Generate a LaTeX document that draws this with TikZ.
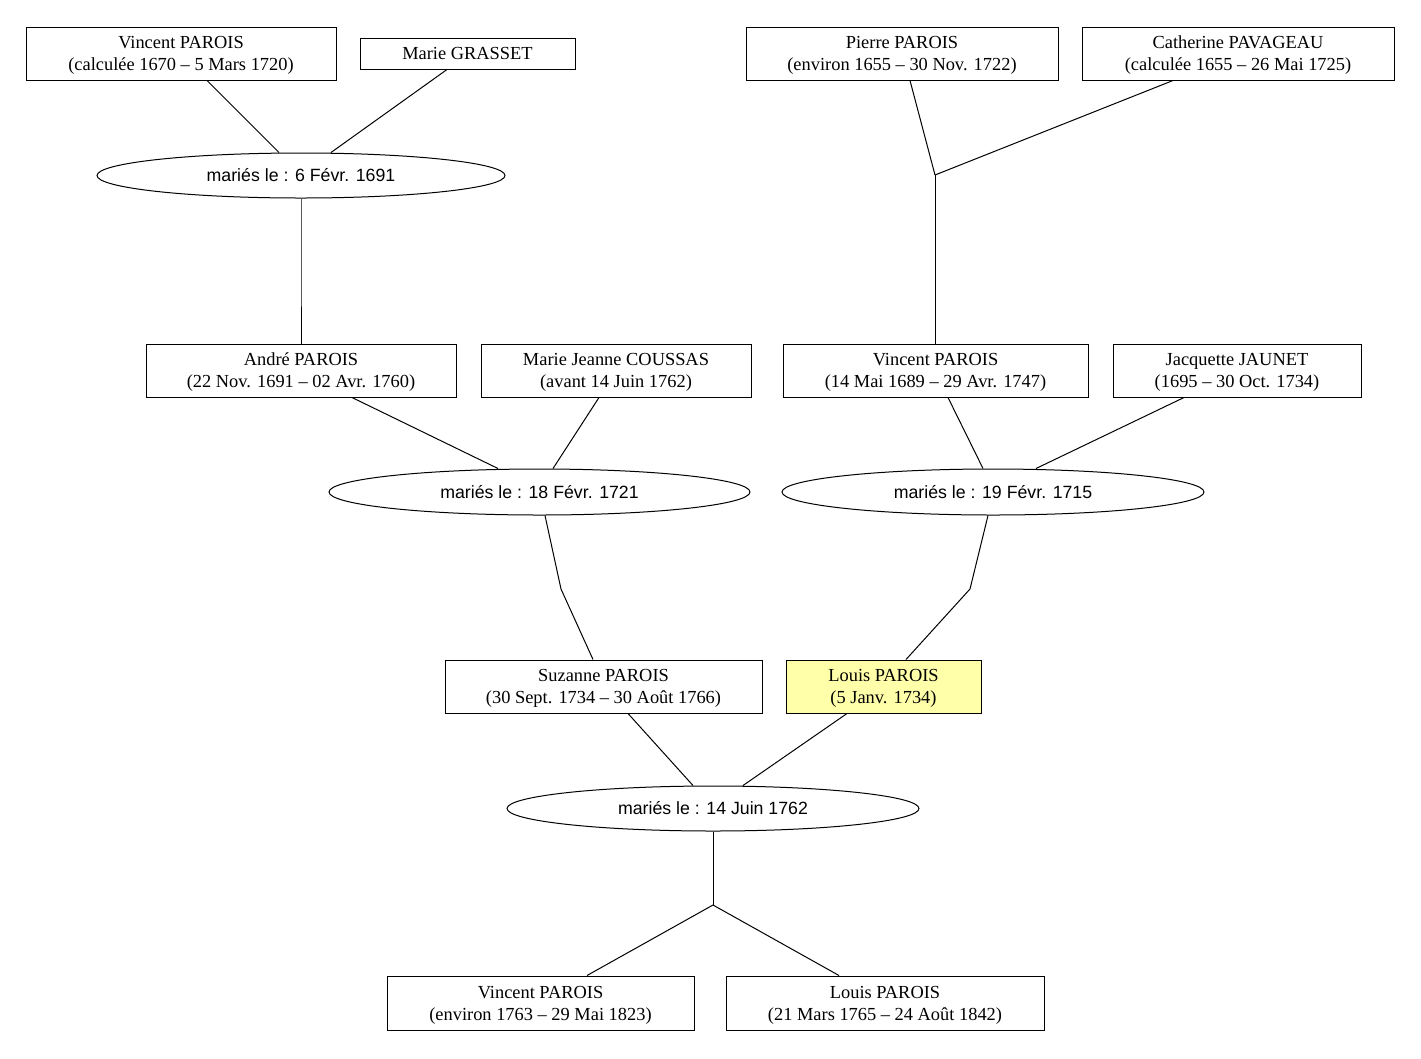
\documentclass[tikz,border=0pt]{standalone}
\usepackage{fontspec}
\setmainfont{Liberation Serif}
\newfontfamily\ellfont{Liberation Sans}
\usetikzlibrary{shapes.geometric}
\newdimen\px \px=0.75pt
\definecolor{hl}{RGB}{255,255,170}
\begin{document}
\begin{tikzpicture}[x=0.75pt,y=-0.75pt,
 person/.style={draw, rectangle, line width=0.75pt, inner sep=0pt, align=center,
   font=\fontsize{13.8}{16.5}\selectfont, minimum height=53\px, text depth=-3.5pt},
 wed/.style={draw, ellipse, line width=0.75pt, inner sep=0pt,
   font=\ellfont\fontsize{13.3}{16}\selectfont, minimum height=45\px},
 link/.style={line width=0.75pt, line join=round}]
\useasboundingbox (0,0) rectangle (1421,1058);
% generation 1
\node[person, minimum width=310\px] (vp1) at (181,53.5) {Vincent PAROIS\\(calculée 1670 – 5 Mars 1720)};
\node[person, minimum width=215\px, minimum height=31\px] (mg) at (467.5,53.5) {Marie GRASSET};
\node[person, minimum width=312\px] (pp) at (902,53.5) {Pierre PAROIS\\(environ 1655 – 30 Nov. 1722)};
\node[person, minimum width=312\px] (cp) at (1238,53.5) {Catherine PAVAGEAU\\(calculée 1655 – 26 Mai 1725)};
\node[wed, minimum width=408\px] (e1) at (301,175.5) {mariés le : 6 Févr. 1691};
\coordinate (j1) at (935,175);
\coordinate (m1) at (301,270);
\coordinate (m2) at (935,270);
% generation 2
\node[person, minimum width=310\px] (ap) at (301,370.5) {André PAROIS\\(22 Nov. 1691 – 02 Avr. 1760)};
\node[person, minimum width=270\px] (mjc) at (616,370.5) {Marie Jeanne COUSSAS\\(avant 14 Juin 1762)};
\node[person, minimum width=305\px] (vp2) at (935.5,370.5) {Vincent PAROIS\\(14 Mai 1689 – 29 Avr. 1747)};
\node[person, minimum width=248\px] (jj) at (1237,370.5) {Jacquette JAUNET\\(1695 – 30 Oct. 1734)};
\node[wed, minimum width=421\px, minimum height=46\px] (e2) at (539.5,492) {mariés le : 18 Févr. 1721};
\node[wed, minimum width=422\px, minimum height=46\px] (e3) at (993,492) {mariés le : 19 Févr. 1715};
\coordinate (m3) at (561,589);
\coordinate (m4) at (970,589);
% generation 3
\node[person, minimum width=317\px] (sp) at (603.5,686.5) {Suzanne PAROIS\\(30 Sept. 1734 – 30 Août 1766)};
\node[person, minimum width=195\px, fill=hl] (lp) at (883.5,686.5) {Louis PAROIS\\(5 Janv. 1734)};
\node[wed, minimum width=412\px] (e4) at (713,808.5) {mariés le : 14 Juin 1762};
\coordinate (j2) at (713,905);
% generation 4
\node[person, minimum width=307\px, minimum height=54\px] (vp3) at (540.5,1003) {Vincent PAROIS\\(environ 1763 – 29 Mai 1823)};
\node[person, minimum width=318\px, minimum height=54\px] (lp2) at (885,1003) {Louis PAROIS\\(21 Mars 1765 – 24 Août 1842)};
% links
\draw[link] ([xshift=26\px]vp1.south) -- ([xshift=-22\px]e1.north);
\draw[link] ([xshift=-20.5\px]mg.south) -- ([xshift=30\px]e1.north);
\draw[link] (e1.south) -- (m1) -- (ap.north);
\draw[link] ([xshift=8\px]pp.south) -- (j1);
\draw[link] ([xshift=-65\px]cp.south) -- (j1);
\draw[link] (j1) -- (m2) -- ([xshift=-0.5\px]vp2.north);
\draw[link] ([xshift=51\px]ap.south) -- ([xshift=-41.5\px]e2.north);
\draw[link] ([xshift=-17\px]mjc.south) -- ([xshift=13.5\px]e2.north);
\draw[link] ([xshift=12.5\px]vp2.south) -- ([xshift=-10\px]e3.north);
\draw[link] ([xshift=-53\px]jj.south) -- ([xshift=43\px]e3.north);
\draw[link] ([xshift=5.5\px]e2.south) -- (m3) -- ([xshift=-10.5\px]sp.north);
\draw[link] ([xshift=-5\px]e3.south) -- (m4) -- ([xshift=22.5\px]lp.north);
\draw[link] ([xshift=24.5\px]sp.south) -- ([xshift=-20\px]e4.north);
\draw[link] ([xshift=-36.5\px]lp.south) -- ([xshift=30\px]e4.north);
\draw[link] (e4.south) -- (j2);
\draw[link] (j2) -- ([xshift=46.5\px]vp3.north);
\draw[link] (j2) -- ([xshift=-46\px]lp2.north);
\end{tikzpicture}
\end{document}
